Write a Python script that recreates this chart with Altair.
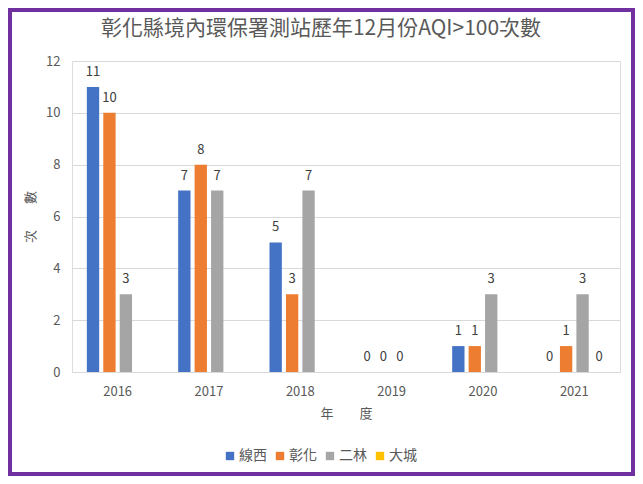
import altair as alt
import pandas as pd

years = ["2016", "2017", "2018", "2019", "2020", "2021"]
series = ["線西", "彰化", "二林", "大城"]
xianxi = [11, 7, 5, 0, 1, 0]
changhua = [10, 8, 3, 0, 1, 1]
erlin = [3, 7, 7, 0, 3, 3]
dacheng = [None, None, None, None, None, 0]
colors = ["#4472C4", "#ED7D31", "#A5A5A5", "#FFC000"]

rows = []
for name, vals in zip(series, [xianxi, changhua, erlin, dacheng]):
    for y, v in zip(years, vals):
        rows.append({"年度": y, "測站": name, "次數": v})
df = pd.DataFrame(rows)

FONT = "Noto Sans CJK TC"
W, H = 548, 311
PAD = {"left": 64, "top": 53, "right": 15, "bottom": 104}

x_enc = alt.X("年度:N", sort=years,
              scale=alt.Scale(paddingInner=0.28, paddingOuter=0.14),
              axis=alt.Axis(title="年\u3000\u3000度", labelAngle=0, labelFontSize=13,
                            labelColor="#595959", labelPadding=13, ticks=False,
                            domainColor="#D9D9D9", titleFontSize=13,
                            titleColor="#595959", titleFontWeight="normal",
                            titlePadding=9, labelFont=FONT, titleFont=FONT))
xo_enc = alt.XOffset("測站:N", sort=series,
                     scale=alt.Scale(domain=series, paddingInner=0.25, paddingOuter=0.125))
y_enc = alt.Y("次數:Q",
              scale=alt.Scale(domain=[0, 12], nice=False),
              axis=alt.Axis(title="次\u3000\u3000數", values=[0, 2, 4, 6, 8, 10, 12],
                            labelFontSize=13, labelColor="#595959", labelPadding=12,
                            ticks=False, domain=False, gridColor="#D9D9D9",
                            titleFontSize=13, titleColor="#595959",
                            titleFontWeight="normal", titlePadding=8,
                            labelFont=FONT, titleFont=FONT))
color_enc = alt.Color("測站:N", sort=series,
                      scale=alt.Scale(domain=series, range=colors),
                      legend=alt.Legend(title=None, orient="none", direction="horizontal",
                                        legendX=151, legendY=H + 77, symbolType="square",
                                        symbolSize=70, symbolStrokeWidth=0,
                                        labelFontSize=14, labelColor="#595959",
                                        labelFont=FONT, columnPadding=6,
                                        labelOffset=2))

base = alt.Chart(df).transform_filter("datum['次數'] != null")

bars = base.mark_bar().encode(x=x_enc, xOffset=xo_enc, y=y_enc, color=color_enc)

labels = base.mark_text(dy=-8, baseline="bottom", fontSize=13, color="#404040",
                        font=FONT).encode(
    x=alt.X("年度:N", sort=years), xOffset=alt.XOffset("測站:N", sort=series),
    y="次數:Q", text="次數:Q")

frame = alt.Chart(pd.DataFrame({"k": [0]})).mark_rect(
    filled=False, stroke="#7030A0", strokeWidth=4).encode(
    x=alt.value(-62), x2=alt.value(W + PAD["right"] - 2),
    y=alt.value(-51), y2=alt.value(H + PAD["bottom"] - 2))

chart = alt.layer(bars, labels, frame).properties(
    width=W, height=H,
    title=alt.Title("彰化縣境內環保署測站歷年12月份AQI>100次數", fontSize=21,
                    color="#595959", font=FONT, fontWeight="normal",
                    anchor="middle", frame="group", dx=-25, offset=0, dy=31),
    autosize=alt.AutoSizeParams(type="none"),
    padding=PAD,
).configure_view(stroke=None).configure(background="white")

chart.save("out.html", embed_options={"renderer": "svg", "actions": False})
